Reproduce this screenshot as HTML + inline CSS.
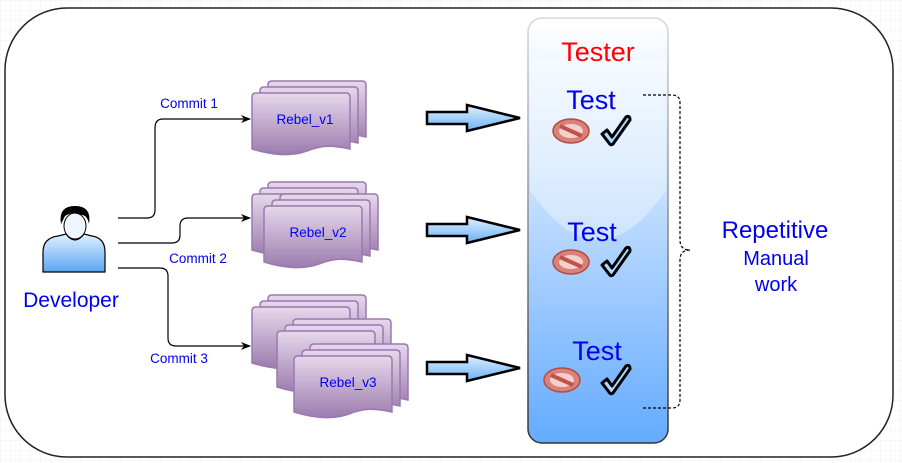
<!DOCTYPE html>
<html><head><meta charset="utf-8"><style>
html,body{margin:0;padding:0;background:#fff}
svg{display:block;font-family:"Liberation Sans",sans-serif}
</style></head><body>
<svg width="902" height="463" viewBox="0 0 902 463" xmlns="http://www.w3.org/2000/svg">
<defs>
<pattern id="grid" width="10" height="10" patternUnits="userSpaceOnUse"><path d="M10 0H0V10" fill="none" stroke="#f0f0f0" stroke-width="1"/></pattern>
<linearGradient id="doc" x1="0" y1="0" x2="0" y2="1"><stop offset="0" stop-color="#e6d8ec"/><stop offset="1" stop-color="#9c7cae"/></linearGradient>
<linearGradient id="tb" x1="0" y1="0" x2="0" y2="1"><stop offset="0" stop-color="#ffffff"/><stop offset="0.35" stop-color="#cfe5ff"/><stop offset="1" stop-color="#64abff"/></linearGradient>
<linearGradient id="tbs" x1="0" y1="0" x2="0" y2="1"><stop offset="0" stop-color="#d8d8d8"/><stop offset="0.4" stop-color="#999"/><stop offset="1" stop-color="#333"/></linearGradient>
<linearGradient id="ar" x1="0" y1="0" x2="0" y2="1"><stop offset="0" stop-color="#e0f0ff"/><stop offset="1" stop-color="#6cb0f5"/></linearGradient>
<linearGradient id="pb" x1="0" y1="0" x2="0" y2="1"><stop offset="0" stop-color="#e0f0ff"/><stop offset="1" stop-color="#5aa6f2"/></linearGradient>
<marker id="m" markerWidth="10" markerHeight="10" refX="9" refY="5" orient="auto" markerUnits="userSpaceOnUse"><path d="M0,1 L10,5 L0,9 L3,5Z" fill="#000"/></marker>
<g id="pg"><path d="M4,0 H94 Q98,0 98,4 V56 C80,52 70,52 55,58 C38,64 20,62 0,56 V4 Q0,0 4,0Z" fill="url(#doc)" stroke="#9b79b0" stroke-width="1.5"/></g>
<g id="stk"><use href="#pg" x="16" y="-12"/><use href="#pg" x="8" y="-6"/><use href="#pg"/></g>
<g id="ar1"><path d="M0,-6 H40 V-13 L93,0 L40,13 V6 H0Z" fill="url(#ar)" stroke="#000" stroke-width="2.5" stroke-linejoin="miter"/></g>
<g id="no"><ellipse cx="0" cy="0" rx="18" ry="12" fill="#d9827a" stroke="#b54a42" stroke-width="1.5"/><ellipse cx="0" cy="0" rx="12" ry="7" fill="#f3d0cc"/><line x1="-11" y1="-5" x2="11" y2="5" stroke="#c0524b" stroke-width="4"/></g>
<g id="ck"><path d="M-13,3 L-8,-1 L-3,6 L11,-14 Q15,-16 15,-11 L-2,13 Q-4,15 -6,12 Z" fill="#aed6ff" stroke="#000" stroke-width="3" stroke-linejoin="round"/></g>
</defs>
<rect width="902" height="463" fill="url(#grid)"/>
<rect x="5" y="8" width="888" height="449" rx="62" fill="#fff" stroke="#222" stroke-width="1.5"/>

<!-- person -->
<path d="M43,272 V252 Q43,238 58,236 L66,234 Q75,246 84,234 L92,236 Q105,238 105,252 V272Z" fill="url(#pb)" stroke="#000" stroke-width="1.2"/>
<ellipse cx="75" cy="226" rx="11" ry="13" fill="#eef6ff" stroke="#000"/>
<path d="M61,224 Q58,206 75,206 Q92,206 89,224 Q87,214 80,215 Q72,211 65,216Z" fill="#000"/>
<text x="71" y="307" font-size="21" fill="#0000ee" text-anchor="middle">Developer</text>

<!-- connectors -->
<path d="M118,218 H147 Q155,218 155,210 V128 Q155,119 163,119 H250" fill="none" stroke="#000" stroke-width="1.2" marker-end="url(#m)"/>
<path d="M118,243 H172 Q180,243 180,235 V226 Q180,218 188,218 H250" fill="none" stroke="#000" stroke-width="1.2" marker-end="url(#m)"/>
<path d="M118,268 H160 Q168,268 168,276 V338 Q168,346 176,346 H250" fill="none" stroke="#000" stroke-width="1.2" marker-end="url(#m)"/>
<text x="189" y="108" font-size="13.5" fill="#0000ee" text-anchor="middle">Commit 1</text>
<text x="198" y="263" font-size="13.5" fill="#0000ee" text-anchor="middle">Commit 2</text>
<text x="179" y="363" font-size="13.5" fill="#0000ee" text-anchor="middle">Commit 3</text>

<!-- docs -->
<use href="#stk" x="252" y="93"/>
<text x="305" y="124" font-size="13.5" fill="#0000ee" text-anchor="middle">Rebel_v1</text>
<use href="#stk" x="252" y="194"/>
<use href="#stk" x="264" y="206"/>
<text x="318" y="237" font-size="13.5" fill="#0000ee" text-anchor="middle">Rebel_v2</text>
<use href="#stk" x="252" y="307"/>
<use href="#stk" x="277" y="331"/>
<use href="#stk" x="294" y="356"/>
<text x="348" y="387" font-size="13.5" fill="#0000ee" text-anchor="middle">Rebel_v3</text>

<!-- block arrows -->
<use href="#ar1" x="427" y="118"/>
<use href="#ar1" x="427" y="230"/>
<use href="#ar1" x="427" y="368"/>

<!-- tester -->
<rect x="528" y="18" width="140" height="425" rx="14" fill="url(#tb)" stroke="url(#tbs)" stroke-width="1.5"/>
<path d="M530,60 V190 Q598,290 666,190 V60Z" fill="#fff" opacity="0.35"/>
<text x="598" y="61" font-size="27" fill="#ff0000" text-anchor="middle">Tester</text>
<text x="591" y="109" font-size="27" fill="#0000ee" text-anchor="middle">Test</text>
<text x="592" y="241" font-size="27" fill="#0000ee" text-anchor="middle">Test</text>
<text x="597" y="360" font-size="27" fill="#0000ee" text-anchor="middle">Test</text>
<use href="#no" x="571" y="131"/><use href="#ck" x="615" y="131"/>
<use href="#no" x="571" y="262"/><use href="#ck" x="615" y="262"/>
<use href="#no" x="562" y="380"/><use href="#ck" x="615" y="380"/>

<!-- brace -->
<path d="M643,95 H672 Q680,95 680,103 V240 Q680,250 690,250 Q680,250 680,260 V400 Q680,408 672,408 H643" fill="none" stroke="#000" stroke-width="1.2" stroke-dasharray="3,2"/>
<text x="775" y="238" font-size="24" fill="#0000ee" text-anchor="middle">Repetitive</text>
<text x="776" y="265" font-size="20" fill="#0000ee" text-anchor="middle">Manual</text>
<text x="776" y="291" font-size="20" fill="#0000ee" text-anchor="middle">work</text>
</svg>
</body></html>
